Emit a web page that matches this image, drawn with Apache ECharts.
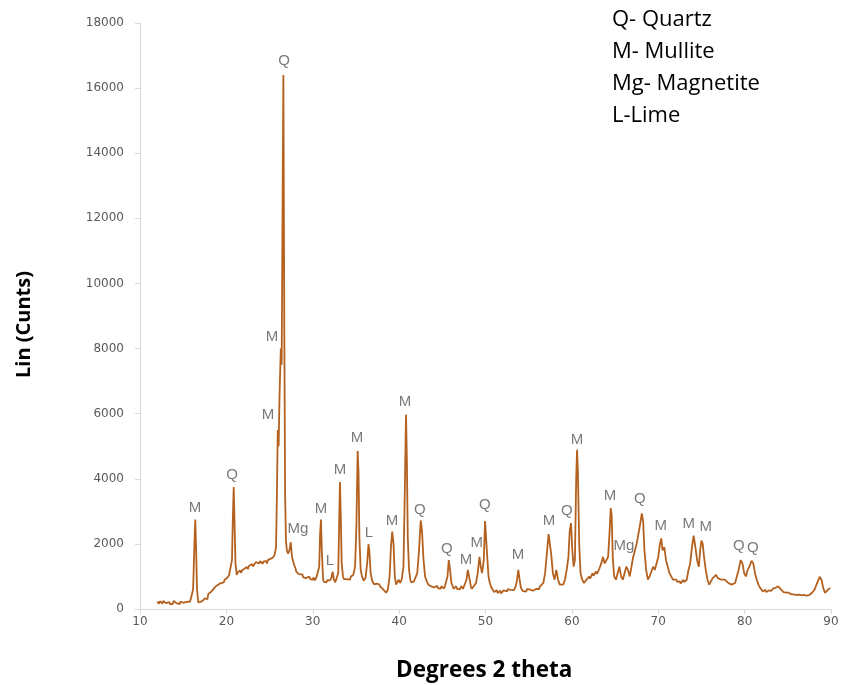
<!DOCTYPE html>
<html>
<head>
<meta charset="utf-8">
<script src="https://cdn.jsdelivr.net/npm/echarts@6/dist/echarts.min.js"></script>
<style>html,body{margin:0;padding:0;background:#fff}#c{width:842px;height:685px}</style>
</head>
<body>
<div id="c"></div>
<script>
// XRD pattern: [2theta, counts]
const xrdPoints = [
[12.0,230],[12.1,170],[12.2,160],[12.3,240],[12.4,210],[12.6,170],[12.7,250],[12.8,220],[13.0,180],[13.1,240],[13.2,150],[13.4,210],[13.5,140],[13.6,190],[13.8,160],
[13.9,250],[14.0,220],[14.2,180],[14.3,240],[14.4,200],[14.6,150],[14.7,230],[14.8,210],[15.0,190],[15.1,130],[15.2,170],[15.4,220],[15.5,160],[15.6,200],[15.8,230],
[16.0,260],[16.15,600],[16.3,2000],[16.4,2750],[16.5,1800],[16.6,600],[16.75,200],[16.9,140],[17.0,220],[17.1,170],[17.3,260],
[17.4,220],[17.5,330],[17.7,350],[17.8,300],[17.9,460],[18.1,430],[18.2,520],[18.3,500],[18.5,610],[18.6,560],[18.7,680],[18.9,650],[19.0,740],[19.1,700],[19.3,790],
[19.4,740],[19.5,850],[19.7,820],[19.8,900],[19.9,870],[20.1,960],[20.2,920],[20.3,1030],[20.5,1080],[20.65,1500],[20.75,2800],[20.85,3750],[20.95,2600],
[21.05,1400],[21.2,1050],[21.3,1120],[21.4,1090],[21.6,1180],[21.7,1110],[21.8,1180],[22.0,1150],[22.1,1240],[22.2,1200],[22.4,1290],[22.5,1220],[22.6,1320],[22.8,1270],
[23.0,1380],[23.1,1310],[23.2,1350],[23.4,1440],[23.5,1400],[23.6,1490],[23.8,1400],[23.9,1470],[24.0,1430],[24.2,1390],[24.3,1460],[24.4,1410],[24.6,1470],[24.7,1400],[24.8,1500],
[25.0,1470],[25.1,1540],[25.2,1500],[25.4,1580],[25.5,1540],[25.6,1680],[25.75,1900],[25.85,3500],[25.95,5500],[26.05,5000],[26.15,6500],[26.3,8000],
[26.4,7500],[26.5,12000],[26.6,16400],[26.7,9000],[26.8,3500],[26.9,2100],[27.0,1800],[27.15,1700],[27.3,1800],[27.45,2050],
[27.6,1600],[27.8,1400],[27.9,1320],[28.0,1250],[28.1,1140],[28.2,1180],[28.4,1070],[28.5,1110],[28.6,1020],[28.8,1060],[28.9,970],[29.0,1020],[29.2,950],[29.3,1010],[29.4,930],
[29.6,1000],[29.7,920],[29.8,960],[30.0,900],[30.1,970],[30.2,880],[30.4,950],[30.5,900],[30.6,980],[30.75,1300],[30.85,2300],[30.95,2750],[31.05,1800],
[31.2,900],[31.3,830],[31.4,880],[31.6,820],[31.7,890],[31.8,830],[32.0,880],[32.15,950],[32.3,1150],[32.45,900],[32.6,820],[32.7,900],[32.8,850],
[32.95,1100],[33.05,2500],[33.15,3900],[33.25,2800],[33.35,1400],[33.5,1000],[33.6,920],[33.7,860],[33.9,920],[34.0,860],[34.1,930],[34.3,900],
[34.4,990],[34.5,960],[34.7,1050],[34.9,1300],[35.05,2500],[35.2,4850],[35.3,4200],[35.4,2200],[35.55,1200],[35.7,1000],[35.8,950],[35.9,870],
[36.1,950],[36.3,1400],[36.45,1990],[36.55,1800],[36.7,1100],[36.9,850],[37.0,800],[37.1,760],[37.3,720],[37.4,780],[37.5,730],[37.7,760],
[37.8,690],[37.9,710],[38.1,620],[38.2,660],[38.3,560],[38.5,500],[38.7,600],[38.9,1000],[39.05,1900],[39.2,2380],[39.35,2000],[39.5,1000],
[39.65,750],[39.8,700],[39.95,900],[40.1,800],[40.3,900],[40.5,1300],[40.65,3500],[40.8,5970],[40.9,4500],[41.0,2200],
[41.15,1200],[41.3,900],[41.4,820],[41.5,760],[41.7,840],[41.8,790],[41.9,870],[42.1,1100],[42.3,1800],[42.5,2720],[42.65,2400],[42.8,1600],
[43.0,1000],[43.2,850],[43.3,800],[43.4,740],[43.6,770],[43.7,700],[43.8,730],[44.0,660],[44.1,720],[44.2,650],[44.4,710],[44.5,640],[44.6,690],[44.8,620],
[44.9,700],[45.0,660],[45.2,630],[45.3,700],[45.4,720],[45.6,1000],[45.75,1500],[45.9,1200],[46.05,800],[46.2,700],[46.3,620],[46.4,660],[46.6,700],
[46.7,620],[46.8,680],[47.0,600],[47.1,660],[47.2,700],[47.4,620],[47.5,690],[47.6,700],[47.8,900],[47.95,1200],[48.1,1000],[48.3,700],[48.4,620],[48.5,680],
[48.7,720],[48.9,800],[49.1,1100],[49.3,1600],[49.45,1300],[49.6,1100],[49.8,1500],[49.95,2700],[50.05,2740],[50.2,1600],
[50.35,1000],[50.5,800],[50.7,650],[50.9,600],[51.0,520],[51.1,560],[51.3,580],[51.4,490],[51.5,520],[51.7,560],[51.8,480],[51.9,520],[52.1,570],[52.2,510],
[52.3,590],[52.5,540],[52.6,610],[52.7,560],[52.9,590],[53.0,530],[53.1,620],[53.3,580],[53.5,700],[53.65,900],[53.8,1200],[53.95,900],
[54.1,650],[54.3,560],[54.4,620],[54.5,580],[54.7,530],[54.8,610],[54.9,560],[55.1,600],[55.2,540],[55.3,610],[55.5,560],[55.6,620],[55.7,580],[55.9,620],
[56.1,650],[56.2,610],[56.3,690],[56.5,720],[56.7,800],[56.9,1100],[57.1,1700],[57.3,2300],[57.45,2330],[57.6,1700],[57.8,1100],
[58.0,900],[58.2,1200],[58.4,900],[58.6,750],[58.8,800],[59.0,750],[59.2,900],[59.4,1200],[59.6,1600],[59.75,2400],
[59.9,2640],[60.05,1800],[60.2,1300],[60.35,1500],[60.5,4000],[60.6,4890],[60.7,4200],[60.85,2000],[61.0,1100],[61.2,900],
[61.4,800],[61.6,870],[61.7,820],[61.8,900],[62.0,1000],[62.1,930],[62.2,980],[62.4,1100],[62.5,1020],[62.6,1080],[62.8,1150],[62.9,1080],[63.0,1120],[63.2,1250],
[63.4,1400],[63.6,1600],[63.8,1400],[64.0,1500],[64.2,1600],[64.35,2300],[64.5,3100],[64.6,2900],[64.75,1500],[64.9,1000],
[65.1,900],[65.3,1100],[65.5,1300],[65.7,1000],[65.9,900],[66.1,1100],[66.3,1300],[66.5,1200],[66.7,1000],[66.9,1300],
[67.1,1600],[67.3,1800],[67.5,2000],[67.7,2300],[67.9,2600],[68.1,2940],[68.25,2700],[68.4,1800],[68.6,1200],[68.8,900],
[69.0,1000],[69.2,950],[69.4,1300],[69.6,1200],[69.8,1400],[70.0,1600],[70.2,2000],[70.35,2170],[70.5,1800],[70.7,1900],
[70.9,1500],[71.1,1300],[71.3,1100],[71.5,1000],[71.7,900],[71.8,950],[71.9,850],[72.1,900],[72.2,830],[72.3,800],[72.5,850],[72.6,780],[72.7,800],
[72.9,900],[73.0,830],[73.1,850],[73.3,900],[73.5,1200],[73.7,1400],[73.9,1900],[74.1,2250],[74.3,1900],[74.5,1500],[74.7,1300],
[74.85,1800],[75.0,2100],[75.15,2000],[75.3,1600],[75.5,1200],[75.7,900],[75.9,750],[76.1,800],[76.3,950],[76.5,1000],
[76.7,1050],[76.9,950],[77.1,1000],[77.3,900],[77.5,950],[77.7,900],[77.9,850],[78.1,800],[78.3,850],[78.5,750],
[78.7,700],[78.9,800],[79.1,1000],[79.3,1200],[79.55,1500],[79.75,1400],[79.95,1100],[80.15,1000],[80.35,1200],[80.55,1300],
[80.8,1480],[81.0,1400],[81.2,1100],[81.4,900],[81.6,750],[81.8,650],[82.0,600],[82.1,540],[82.2,560],[82.4,590],[82.5,520],[82.6,530],
[82.8,570],[83.0,600],[83.1,560],[83.3,630],[83.6,650],[83.9,700],[84.2,600],[84.5,520],[84.6,470],[84.8,500],[85.0,440],[85.1,500],[85.4,450],
[85.5,490],[85.7,450],[86.0,430],[86.1,480],[86.3,440],[86.6,420],[86.7,470],[86.9,430],[87.2,410],[87.3,460],[87.5,430],[87.8,500],[88.1,600],[88.4,800],
[88.7,990],[88.9,900],[89.1,650],[89.3,500],[89.5,450],[89.7,600],[89.9,650]
];

// Phase labels: text and the data position of the label centre
const peakText = ['M','Q','M','M','Q','Mg','M','L','M','M','L','M','M','Q','Q','M','M','Q','M','M','Q','M','M','Mg','Q','M','M','M','Q','Q'];
const peakX = [16.37,20.65,24.81,25.28,26.67,28.29,30.95,31.99,33.15,35.12,36.5,39.17,40.67,42.41,45.53,47.73,49.0,49.93,53.75,57.34,59.42,60.58,64.4,66.02,67.87,70.3,73.54,75.51,79.33,80.95];
const peakY = [3108,4123,5969,8369,16831,2462,3077,1477,4277,5262,2338,2708,6369,3046,1846,1508,2031,3200,1662,2708,3015,5200,3477,1938,3385,2554,2615,2523,1938,1877];

const legendLines = ['Q- Quartz','M- Mullite','Mg- Magnetite','L-Lime'];
const xTitle = 'Degrees 2 theta';
const yTitle = 'Lin (Cunts)';

const chart = echarts.init(document.getElementById('c'), null, {renderer:'canvas'});
const axisGrey = '#d9d9d9';
const labelGrey = '#595959';
const tickFont = 'DejaVu Sans';

const graphics = legendLines.map((t,i)=>({
  type:'text', left:612, top:9 + i*32,
  style:{text:t, fontSize:22, fontFamily:'Open Sans', fill:'#000'}
}));
graphics.push({type:'text', left:396, top:659, style:{text:xTitle, fontSize:22.5, fontWeight:'bold', fontFamily:'Open Sans', fill:'#000'}});
graphics.push({type:'text', left:14, top:271, rotation:Math.PI/2, style:{text:yTitle, fontSize:20, fontWeight:'bold', fontFamily:'Open Sans', fill:'#000'}});

chart.setOption({
  animation:false,
  grid:{left:140, right:11, top:23, bottom:76, containLabel:false},
  xAxis:{
    type:'value', min:10, max:90, interval:10,
    axisLine:{show:true, lineStyle:{color:axisGrey, width:1}},
    axisTick:{show:true, length:5, lineStyle:{color:axisGrey}},
    splitLine:{show:false},
    axisLabel:{color:labelGrey, fontSize:12, fontFamily:tickFont, margin:7}
  },
  yAxis:{
    type:'value', min:0, max:18000, interval:2000,
    axisLine:{show:true, lineStyle:{color:axisGrey, width:1}},
    axisTick:{show:true, length:5, lineStyle:{color:axisGrey}},
    splitLine:{show:false},
    axisLabel:{color:labelGrey, fontSize:12, fontFamily:tickFont, margin:16, formatter:v=>String(v)}
  },
  graphic:graphics,
  series:[
    {
      type:'line', data:xrdPoints, showSymbol:false, symbol:'none',
      lineStyle:{color:'#b4611f', width:1.8}, smooth:false
    },
    {
      type:'scatter', symbolSize:0, silent:true,
      data: peakX.map((x,i)=>({value:[x,peakY[i]], name:peakText[i]})),
      label:{show:true, position:'inside', formatter:p=>p.name, color:labelGrey, fontSize:15, fontFamily:'Liberation Sans'}
    }
  ]
});
</script>
</body>
</html>
